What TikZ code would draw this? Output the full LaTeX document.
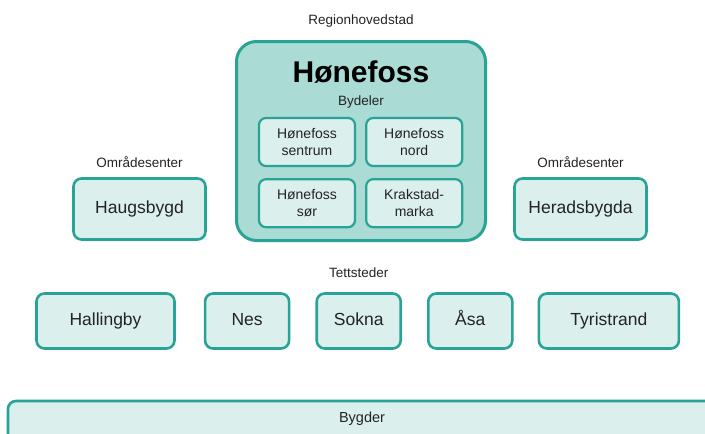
\documentclass[tikz,border=0pt]{standalone}
\usepackage{fontspec}
\setmainfont{Liberation Sans}
\usetikzlibrary{positioning}
\definecolor{tealline}{RGB}{40,163,149}
\definecolor{boxfill}{RGB}{219,239,237}
\definecolor{bigfill}{RGB}{170,219,213}
\definecolor{textgray}{RGB}{35,35,35}

\begin{document}
\begin{tikzpicture}[
    x=1pt,y=-1pt,
    box/.style={rectangle,rounded corners=8pt,draw=tealline,line width=2.6pt,fill=boxfill,text=textgray,font=\fontsize{17.5}{20}\selectfont,text height=12.6pt,text depth=3.8pt,minimum height=55pt},
    subbox/.style={rectangle,rounded corners=7pt,draw=tealline,line width=2.2pt,fill=boxfill,text=textgray,align=center,font=\fontsize{14}{16.5}\selectfont,minimum width=96pt,minimum height=48pt},
    bigbox/.style={rectangle,rounded corners=20pt,draw=tealline,line width=3pt,fill=bigfill,minimum width=249pt,minimum height=199pt},
    tag/.style={inner sep=0pt,text=textgray,font=\fontsize{13.5}{16}\selectfont}]
    \useasboundingbox (0,0) rectangle (705,434);
    \clip (0,0) rectangle (705,434);

    \node[bigbox] (honefoss) at (361,141) {};
    \node[tag] (region) [above=12pt of honefoss] {Regionhovedstad};
    \node[inner sep=0pt,text=black,font=\fontsize{30}{34}\selectfont\bfseries] (title) [below=21pt of honefoss.north] {Hønefoss};
    \node[tag] (bydeler) [below=12pt of title] {Bydeler};
    \node[subbox] (sentrum) at (307,142) {Hønefoss\\sentrum};
    \node[subbox] (nord) [right=9pt of sentrum] {Hønefoss\\nord};
    \node[subbox] (sor) [below=11pt of sentrum] {Hønefoss\\sør};
    \node[subbox] (krakstad) [right=9pt of sor] {Krakstad-\\marka};

    \node[box,minimum width=132pt,minimum height=61pt] (haugsbygd) at (139.5,209) {Haugsbygd};
    \node[tag] (omrade1) [above=9pt of haugsbygd] {Områdesenter};
    \node[box,minimum width=132pt,minimum height=61pt] (heradsbygda) at (580.5,209) {Heradsbygda};
    \node[tag] (omrade2) [above=9pt of heradsbygda] {Områdesenter};

    \node[box,minimum width=138pt] (hallingby) at (105.5,321) {Hallingby};
    \node[box,minimum width=84pt] (nes) [right=28pt of hallingby] {Nes};
    \node[box,minimum width=84pt] (sokna) [right=25pt of nes] {Sokna};
    \node[box,minimum width=84pt] (asa) [right=25pt of sokna] {Åsa};
    \node[box,minimum width=140pt] (tyristrand) [right=24pt of asa] {Tyristrand};
    \node[tag] (tettsteder) [above=14pt of sokna] {Tettsteder};

    \node[box,minimum width=708pt,minimum height=50pt,text height=10pt,text depth=18pt,font=\fontsize{14.5}{17}\selectfont] (bygder) at (362,426) {Bygder};
  \end{tikzpicture}
\end{document}
